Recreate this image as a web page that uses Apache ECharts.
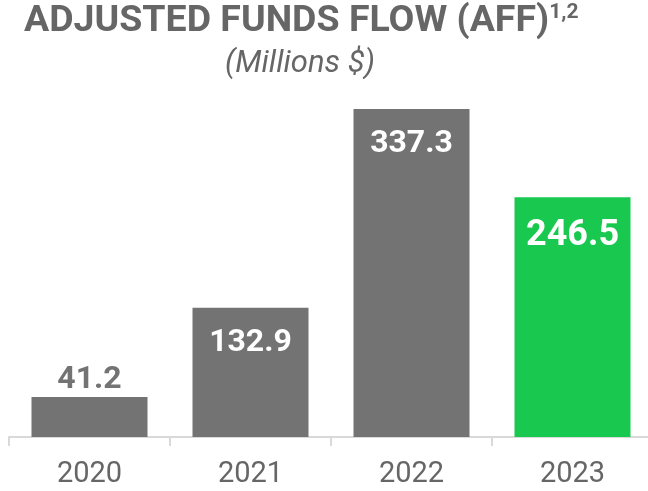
<!DOCTYPE html>
<html>
<head>
<meta charset="utf-8">
<script src="https://cdn.jsdelivr.net/npm/echarts@6/dist/echarts.min.js"></script>
<style>
html,body{margin:0;padding:0;background:#fff;overflow:hidden;}
#main{width:653px;height:491px;}
</style>
</head>
<body>
<div id="main"></div>
<script>
// AFF by year, millions $
var years = ['2020', '2021', '2022', '2023'];
var aff = [41.2, 132.9, 337.3, 246.5];

var gray = '#737373';
var green = '#19c94f';

var barData = aff.map(function(v, i){
    var item = {value: v, itemStyle: {color: gray}};
    if (i == 0) {//small bar: label above
        item.label = {position: 'top', distance: 1, color: gray};
    }
    if (i == years.length - 1) {//latest year in green
        item.itemStyle.color = green;
        item.label = {fontSize: 36, distance: 21};
    }
    return item;
});

// chart div is 5px wider than the window: last category runs off the right edge like the original
var chart = echarts.init(document.getElementById('main'));
chart.setOption({
    animation: false,
    title: [
        {
            text: '{a|ADJUSTED FUNDS FLOW (AFF)}{s|1,2}',
            left: 24,
            top: 2,
            padding: 0,
            textStyle: {
                rich: {
                    a: {fontFamily: 'Roboto', fontWeight: 'bold', fontSize: 37.5, color: '#666666', lineHeight: 40},
                    s: {fontFamily: 'Roboto', fontWeight: 'bold', fontSize: 21, color: '#666666', verticalAlign: 'top', lineHeight: 22}
                }
            }
        },
        {
            text: '(Millions $)',
            left: 225,
            top: 49,
            padding: 0,
            textStyle: {fontFamily: 'Roboto', fontStyle: 'italic', fontWeight: 'normal', fontSize: 31, color: '#666666'}
        }
    ],
    grid: {left: 9, right: 0, top: 87, bottom: 54},
    xAxis: {
        type: 'category',
        data: years,
        axisLine: {lineStyle: {color: '#d9d9d9', width: 2}},
        axisTick: {show: true, length: 9, lineStyle: {color: '#d9d9d9', width: 2}},
        axisLabel: {fontFamily: 'Roboto', fontSize: 29, color: '#666666', margin: 23}
    },
    yAxis: {
        type: 'value',
        min: 0,
        max: 360,
        show: false,
        splitLine: {show: false}
    },
    series: [{
        type: 'bar',
        data: barData,
        barWidth: 116,
        label: {
            show: true,
            position: 'insideTop',
            distance: 19,
            fontFamily: 'Roboto',
            fontWeight: 'bold',
            fontSize: 32,
            color: '#ffffff'
        }
    }]
});
</script>
</body>
</html>
